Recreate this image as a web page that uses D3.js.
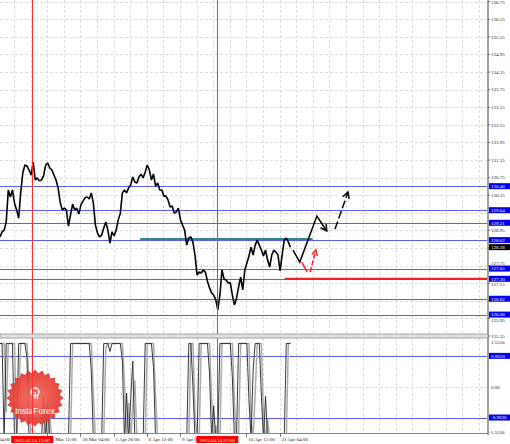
<!DOCTYPE html>
<html>
<head>
<meta charset="utf-8">
<script src="https://cdn.jsdelivr.net/npm/d3@7"></script>
<style>
  body { margin: 0; background: #fff; }
  svg { display: block; }
  text { font-family: "Liberation Serif", serif; }
</style>
</head>
<body>
<svg width="510" height="444"></svg>
<script>
// H1 closes, one value every 4 bars
const closes = [
  128.73, 128.90, 128.96, 129.24, 130.33, 130.09, 130.33, 129.88, 129.65, 129.37,
  130.26, 130.91, 131.18, 131.15, 131.01, 130.84, 131.28, 130.67, 130.74, 130.64,
  130.67, 130.81, 131.18, 131.25, 131.08, 131.01, 130.84, 130.67, 130.40, 129.92,
  129.65, 129.71, 129.65, 129.10, 129.48, 129.85, 129.65, 129.71, 129.51, 129.82,
  129.95, 130.06, 130.09, 130.02, 130.23, 129.88, 129.13, 128.86, 128.73, 128.79,
  129.03, 129.24, 128.96, 128.52, 128.90, 128.76, 128.96, 129.31, 129.54, 130.23,
  130.33, 130.23, 130.40, 130.50, 130.77, 130.60, 130.57, 130.77, 130.87, 130.74,
  130.94, 131.18, 131.01, 130.67, 130.87, 130.46, 130.57, 130.33, 130.33, 130.12,
  130.12, 129.99, 129.75, 129.78, 129.54, 129.58, 129.71, 129.31, 129.13, 128.96,
  128.45, 128.69, 128.73, 128.55, 128.11, 127.43, 127.53, 127.50, 127.60, 127.53,
  127.22, 126.99, 126.82, 126.75, 126.58, 126.24, 126.75, 127.60, 127.29, 127.26,
  127.16, 127.16, 126.75, 126.41, 126.64, 127.02, 127.36, 126.92, 127.60, 127.84,
  128.08, 128.38, 128.11, 128.45, 128.62, 128.45, 128.28, 128.08, 128.28, 127.94,
  127.70, 128.11, 128.28, 128.21, 128.11, 127.57, 128.11, 128.62, 128.69, 128.55,
  128.38
]
const barStep = 4

// oscillator in the lower window (main, signal)
const osc = [
  1.35, 1.35, -1.65, 1.35, 1.35, 1.35, 1.35, -1.65, -1.65, 1.35,
  1.35, 1.35, 1.35, 0.9, -1.65, -1.65, -1.65, -1.65, -1.65, -1.65,
  -1.65, -0.3, -1.65, -0.5, -1.65, -1.65, -1.65, -1.65, -1.65, -1.65,
  -1.65, -1.65, -1.65, -1.65, 1.35, 1.35, 1.35, 1.35, 1.35, 1.35,
  1.35, 1.35, 1.35, 1.35, 0.5, -1.65, -1.65, -1.65, -1.65, -1.65,
  1.35, 1.35, 1.35, 1.1, 1.35, 1.35, 1.35, 1.35, 1.35, 0.8,
  -1.65, -0.2, -1.65, -0.4, 0.8, -1.65, -1.65, -1.65, -1.65, -1.65,
  1.35, 1.35, 1.35, 1.35, 0.6, -1.65, -1.65, -1.65, -1.65, -1.65,
  -1.65, -1.65, -1.65, -1.65, -1.65, -1.65, -1.65, -1.65, -1.65, -1.65,
  -1.65, 1.35, 1.35, 0.0, -1.65, -1.65, 1.35, 1.35, 1.35, 1.35,
  1.35, 0.4, -1.65, -0.6, -1.65, -1.65, 1.35, 1.35, 1.35, 1.35,
  1.35, 1.35, 0.3, -1.65, -1.65, 1.35, 1.35, 1.35, 1.35, 1.35,
  -0.4, -1.65, 0.5, 1.35, 1.35, 1.35, -0.3, -1.65, -0.3, -1.65,
  -1.65, -1.65, -1.65, -1.65, -1.65, -1.65, -1.65, -1.65, 1.35, 1.35,
  1.35
]
const oscSignal = [
  1.35, 1.35, 1.35, -0.8, 1.35, 1.35, 1.35, 1.35, -1.65, -0.2,
  1.35, 1.35, 1.35, 1.35, 0.2, -1.65, -1.65, -1.65, -1.65, -1.65,
  -1.65, -1.65, -0.6, -1.65, -0.9, -1.65, -1.65, -1.65, -1.65, -1.65,
  -1.65, -1.65, -1.65, -1.65, -1.65, 1.35, 1.35, 1.35, 1.35, 1.35,
  1.35, 1.35, 1.35, 1.35, 1.35, -0.2, -1.65, -1.65, -1.65, -1.65,
  -1.65, 1.2, 1.35, 1.35, 1.35, 1.35, 1.35, 1.35, 1.35, 1.35,
  0.1, -1.65, -0.5, -1.65, -0.6, 0.2, -1.65, -1.65, -1.65, -1.65,
  -1.65, 1.35, 1.35, 1.35, 1.35, -0.3, -1.65, -1.65, -1.65, -1.65,
  -1.65, -1.65, -1.65, -1.65, -1.65, -1.65, -1.65, -1.65, -1.65, -1.65,
  -1.65, -1.65, 1.35, 1.35, -0.8, -1.65, -1.65, 1.35, 1.35, 1.35,
  1.35, 1.35, -0.4, -1.65, -1.2, -1.65, -1.65, 1.35, 1.35, 1.35,
  1.35, 1.35, 1.35, -0.5, -1.65, -1.65, 1.35, 1.35, 1.35, 1.35,
  1.35, -1.0, -1.65, -0.2, 1.35, 1.35, 1.35, -1.0, -1.65, -1.0,
  -1.65, -1.65, -1.65, -1.65, -1.65, -1.65, -1.65, -1.65, -1.65, 1.35,
  1.35
]

const priceTicks = ["136.75", "136.15", "135.55", "134.95", "134.35", "133.75", "133.15",
  "132.55", "131.95", "131.35", "130.75", "130.15", "129.55", "128.95", "128.35",
  "127.75", "127.15", "126.55", "125.95", "125.35"]
const levels = [130.46, 129.64, 129.21, 128.62, 127.65, 127.30, 126.62, 126.08]
const oscLevels = [0.963, -0.963]
const oscTicks = ["1.5556", "0.00", "-1.5556"]

const dateLabels = ["20 Mar 04:00", "26 Mar 12:00", "30 Mar 04:00", "1 Apr 20:00",
  "6 Apr 12:00", "9 Apr 04:00", "16 Apr 12:00", "21 Apr 04:00"]
const dateBars = [-37, 91, 155, 219, 283, 347, 475, 539]
const markers = [{ bar: 62, label: "2015.03.24 13:00" }, { bar: 419, label: "2015.04.14 07:00" }]

// support line and forecast
const greenLine = { from: 270, to: 603, price: 128.66 }
const redLine = { from: 549, price: 127.30 }
const forecastSolid = [[565, 128.28], [578, 127.87], [611, 129.44], [630, 128.93]]
const forecastDashed = [[646, 129.00], [671, 130.26]]
const altRed1 = [[582, 127.87], [592, 127.53]]
const altRed2 = [[598, 127.53], [609, 128.28]]

const svg = d3.select("svg")
const plotW = 487
const upper = { top: 0, bottom: 334 }
const lower = { top: 338, bottom: 433 }

const x = d3.scaleLinear().domain([0, 939]).range([0, plotW])
const y = d3.scaleLinear().domain([125.35, 136.75]).range([336, 1.7])
const yo = d3.scaleLinear().domain([-1.5556, 1.5556]).range([436.5, 336.9])

const defs = svg.append("defs")
defs.append("clipPath").attr("id", "clipU").append("rect")
  .attr("x", 0).attr("y", upper.top).attr("width", plotW).attr("height", upper.bottom - upper.top)
defs.append("clipPath").attr("id", "clipL").append("rect")
  .attr("x", 0).attr("y", lower.top).attr("width", plotW).attr("height", lower.bottom - lower.top)

const gU = svg.append("g").attr("clip-path", "url(#clipU)")
const gL = svg.append("g").attr("clip-path", "url(#clipL)")

// grid
const gridBars = d3.range(-5, 940, 32)
const gridStyle = sel => sel.attr("stroke", "#dcdcdc").attr("stroke-width", 1).attr("stroke-dasharray", "3,2")
gU.selectAll(".vg").data(gridBars).join("line")
  .attr("x1", d => Math.round(x(d)) + 0.5).attr("x2", d => Math.round(x(d)) + 0.5)
  .attr("y1", upper.top).attr("y2", upper.bottom).call(gridStyle)
gU.selectAll(".hg").data(priceTicks).join("line")
  .attr("x1", 0).attr("x2", plotW)
  .attr("y1", d => Math.round(y(+d)) + 0.5).attr("y2", d => Math.round(y(+d)) + 0.5).call(gridStyle)
gL.selectAll(".vg").data(gridBars).join("line")
  .attr("x1", d => Math.round(x(d)) + 0.5).attr("x2", d => Math.round(x(d)) + 0.5)
  .attr("y1", lower.top).attr("y2", lower.bottom).call(gridStyle)
gL.append("line").attr("x1", 0).attr("x2", plotW)
  .attr("y1", Math.round(yo(0)) + 0.5).attr("y2", Math.round(yo(0)) + 0.5).call(gridStyle)

// logo
const star = d3.range(48).map(i => [i / 48 * 2 * Math.PI, i % 2 ? 25 : 28.5])
const grad = defs.append("radialGradient").attr("id", "lg")
grad.append("stop").attr("offset", "0%").attr("stop-color", "#f46a5c")
grad.append("stop").attr("offset", "100%").attr("stop-color", "#e2342b")
const logo = svg.append("g").attr("transform", "translate(35,398)")
logo.append("path").attr("d", d3.lineRadial().curve(d3.curveLinearClosed)(star))
  .attr("fill", "url(#lg)").attr("opacity", 0.92)
logo.append("circle").attr("cx", 0).attr("cy", -6).attr("r", 4).attr("fill", "none")
  .attr("stroke", "#fff").attr("stroke-width", 1.4)
logo.append("path").attr("d", "M0,-6V1M-2.5,-3V1M2.5,-3V1").attr("stroke", "#fff").attr("stroke-width", 1.2)
logo.append("text").attr("x", 0).attr("y", 16).attr("text-anchor", "middle")
  .style("font-family", "'Liberation Sans', Arial, sans-serif").style("font-size", "8.5px")
  .attr("fill", "#fff").text("InstaForex")

// vertical markers
markers.forEach(m => {
  svg.append("line").attr("x1", Math.round(x(m.bar)) + 0.5).attr("x2", Math.round(x(m.bar)) + 0.5)
    .attr("y1", 0).attr("y2", lower.bottom).attr("stroke", "#ff3030").attr("stroke-width", 1)
})

// blue levels
gU.selectAll(".lvl").data(levels).join("line")
  .attr("x1", 0).attr("x2", plotW)
  .attr("y1", d => Math.round(y(d)) + 0.5).attr("y2", d => Math.round(y(d)) + 0.5)
  .attr("stroke", "#5a5aff").attr("stroke-width", 1)
gL.selectAll(".lvl").data(oscLevels).join("line")
  .attr("x1", 0).attr("x2", plotW)
  .attr("y1", d => Math.round(yo(d)) + 0.5).attr("y2", d => Math.round(yo(d)) + 0.5)
  .attr("stroke", "#5a5aff").attr("stroke-width", 1)

// green support
gU.append("line").attr("x1", x(greenLine.from)).attr("x2", x(greenLine.to))
  .attr("y1", y(greenLine.price)).attr("y2", y(greenLine.price))
  .attr("stroke", "#2f8a7a").attr("stroke-width", 2)

// red line
gU.append("line").attr("x1", x(redLine.from)).attr("x2", plotW)
  .attr("y1", y(redLine.price)).attr("y2", y(redLine.price))
  .attr("stroke", "#ee2222").attr("stroke-width", 2)

// price
const line = d3.line().x((d, i) => x(i * barStep)).y(d => y(d))
gU.append("path").attr("d", line(closes)).attr("fill", "none")
  .attr("stroke", "#000").attr("stroke-width", 1.6).attr("stroke-linejoin", "bevel")

// oscillator
const oLine = d3.line().x((d, i) => x(i * barStep)).y(d => yo(d))
gL.append("path").attr("d", oLine(oscSignal)).attr("fill", "none")
  .attr("stroke", "#aaa").attr("stroke-width", 1.5)
gL.append("path").attr("d", oLine(osc)).attr("fill", "none")
  .attr("stroke", "#222").attr("stroke-width", 0.9)

// forecast arrows
const fl = d3.line().x(d => x(d[0])).y(d => y(d[1]))
function arrowHead(g, pts, color, len) {
  const a = [x(pts[pts.length - 2][0]), y(pts[pts.length - 2][1])]
  const b = [x(pts[pts.length - 1][0]), y(pts[pts.length - 1][1])]
  const ang = Math.atan2(b[1] - a[1], b[0] - a[0])
  const p1 = [b[0] - len * Math.cos(ang - 0.5), b[1] - len * Math.sin(ang - 0.5)]
  const p2 = [b[0] - len * Math.cos(ang + 0.5), b[1] - len * Math.sin(ang + 0.5)]
  g.append("path").attr("d", `M${p1}L${b}L${p2}`).attr("fill", "none")
    .attr("stroke", color).attr("stroke-width", 1.5)
}
gU.append("path").attr("d", fl(forecastSolid)).attr("fill", "none")
  .attr("stroke", "#000").attr("stroke-width", 1.5)
arrowHead(gU, forecastSolid, "#000", 7)
gU.append("path").attr("d", fl(forecastDashed)).attr("fill", "none")
  .attr("stroke", "#000").attr("stroke-width", 1.5).attr("stroke-dasharray", "8,3")
arrowHead(gU, forecastDashed, "#000", 7)
gU.append("path").attr("d", fl(altRed1)).attr("fill", "none")
  .attr("stroke", "#ff2020").attr("stroke-width", 1.5)
gU.append("path").attr("d", fl(altRed2)).attr("fill", "none")
  .attr("stroke", "#ff2020").attr("stroke-width", 1.5).attr("stroke-dasharray", "5,2")
arrowHead(gU, altRed2, "#ff2020", 6)

// frame
svg.append("line").attr("x1", plotW + 1).attr("x2", plotW + 1).attr("y1", 0).attr("y2", lower.bottom + 2)
  .attr("stroke", "#808080").attr("stroke-width", 1.5)
svg.append("rect").attr("x", 0).attr("y", upper.bottom).attr("width", plotW + 1).attr("height", lower.top - upper.bottom)
  .attr("fill", "#e0e0e0").attr("stroke", "#909090").attr("stroke-width", 0.8)
svg.append("line").attr("x1", 0).attr("x2", plotW + 1).attr("y1", lower.bottom + 0.5).attr("y2", lower.bottom + 0.5)
  .attr("stroke", "#808080").attr("stroke-width", 1)

// right axis labels: hidden when under a level box, pushed clear when close to one
const fs = "5px"
const lastClose = closes[closes.length - 1]
const boxed = levels.concat([lastClose])
function labelPos(t) {
  const ty = y(+t)
  let near = null
  boxed.forEach(v => { if (Math.abs(ty - y(v)) < 5.5) near = y(v) })
  if (near === null) return ty
  return ty < near ? near - 5.5 : near + 5.5
}
const freeTicks = priceTicks.filter(t => boxed.every(v => Math.abs(y(+t) - y(v)) > 2.8))
svg.selectAll(".ptk").data(priceTicks).join("line")
  .attr("x1", plotW + 1).attr("x2", plotW + 3).attr("y1", d => y(+d)).attr("y2", d => y(+d))
  .attr("stroke", "#444").attr("stroke-width", 0.7)
svg.selectAll(".pt").data(freeTicks).join("text")
  .attr("x", 491).attr("y", d => labelPos(d) + 1.8).style("font-size", fs).attr("fill", "#222").text(d => d)

function box(yy, label, color) {
  svg.append("rect").attr("x", 489).attr("y", yy - 3).attr("width", 21).attr("height", 6).attr("fill", color)
  svg.append("text").attr("x", 491).attr("y", yy + 1.8).style("font-size", fs).attr("fill", "#fff").text(label)
}
levels.forEach(v => box(y(v), v.toFixed(2), "#0000ee"))
box(y(lastClose), lastClose.toFixed(2), "#000")

svg.append("text").attr("x", 491).attr("y", yo(1.5556) + 7.5).style("font-size", fs).attr("fill", "#222").text(oscTicks[0])
svg.append("text").attr("x", 491).attr("y", yo(0) + 1.8).style("font-size", fs).attr("fill", "#222").text(oscTicks[1])
svg.append("text").attr("x", 489).attr("y", yo(-1.5556) - 3).style("font-size", fs).attr("fill", "#222").text(oscTicks[2])
oscLevels.forEach(v => box(yo(v), v.toFixed(4), "#0000ee"))

// bottom axis
svg.selectAll(".dl").data(dateLabels).join("text")
  .attr("x", (d, i) => x(dateBars[i]) + 2).attr("y", 441).style("font-size", fs).attr("fill", "#222").text(d => d)
svg.selectAll(".dtk").data(dateBars).join("line")
  .attr("x1", d => Math.round(x(d)) + 0.5).attr("x2", d => Math.round(x(d)) + 0.5)
  .attr("y1", lower.bottom).attr("y2", lower.bottom + 4).attr("stroke", "#444").attr("stroke-width", 0.7)

markers.forEach(m => {
  const cx = x(m.bar)
  svg.append("rect").attr("x", cx - 21).attr("y", 436).attr("width", 42).attr("height", 7).attr("fill", "#ff0000")
  svg.append("text").attr("x", cx).attr("y", 441.5).attr("text-anchor", "middle")
    .style("font-size", fs).attr("fill", "#fff").text(m.label)
})
</script>
</body>
</html>
